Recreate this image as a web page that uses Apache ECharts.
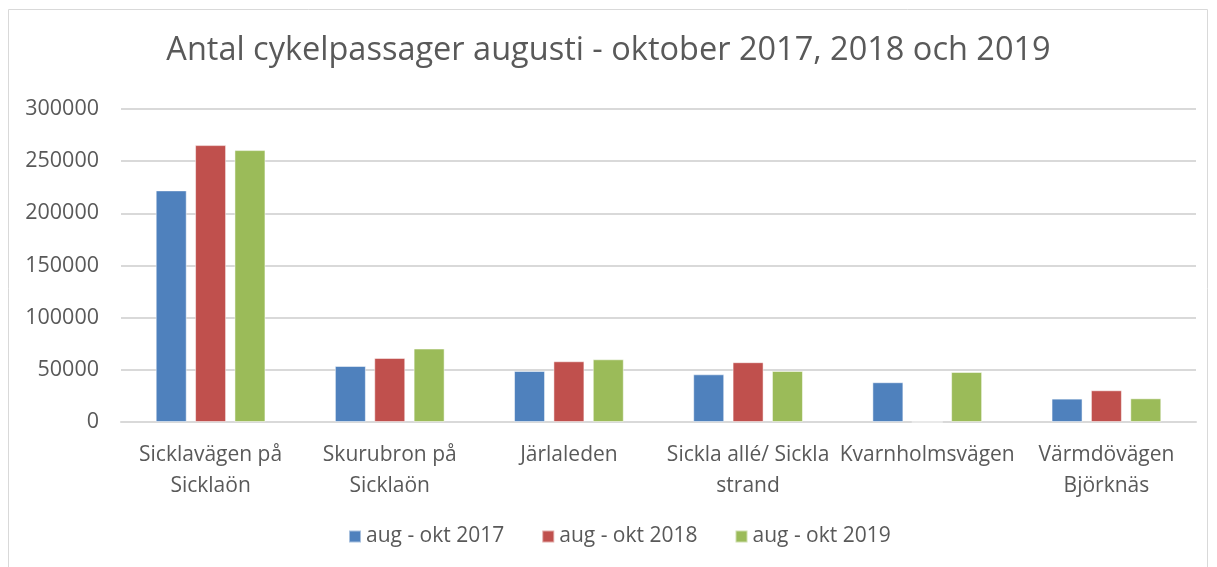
<!DOCTYPE html>
<html>
<head>
<meta charset="utf-8">
<script src="https://cdn.jsdelivr.net/npm/echarts@6/dist/echarts.min.js"></script>
<style>
  html, body { margin: 0; padding: 0; background: #fff; }
  #chart { width: 1217px; height: 567px; }
</style>
</head>
<body>
<div id="chart"></div>
<script>
const categories = [
  'Sicklavägen på\nSicklaön',
  'Skurubron på\nSicklaön',
  'Järlaleden',
  'Sickla allé/ Sickla\nstrand',
  'Kvarnholmsvägen',
  'Värmdövägen\nBjörknäs',
];
const seriesNames = ['aug - okt 2017', 'aug - okt 2018', 'aug - okt 2019'];
const values2017 = [222000, 53700, 48900, 45700, 38100, 22400];
const values2018 = [265400, 61400, 58200, 57300, 0, 30400];
const values2019 = [260600, 70400, 60100, 48900, 47900, 22700];
const colors = ['#4F81BD', '#C0504D', '#9BBB59'];

const font = '"Open Sans", sans-serif';
const chart = echarts.init(document.getElementById('chart'));

const series = [values2017, values2018, values2019].map((vals, i) => ({
  name: seriesNames[i],
  type: 'bar',
  data: vals,
  barWidth: 31,
  barGap: '27%',
  itemStyle: { color: colors[i], borderColor: 'rgba(255,255,255,0.5)', borderWidth: 1 },
}));

chart.setOption({
  animation: false,
  color: colors,
  graphic: [{
    type: 'rect',
    shape: { x: 8.5, y: 9.5, width: 1199, height: 600 },
    style: { fill: 'none', stroke: '#d9d9d9', lineWidth: 1 },
    silent: true,
  }],
  title: {
    text: 'Antal cykelpassager augusti - oktober 2017, 2018 och 2019',
    left: 'center',
    top: 29,
    textStyle: { fontFamily: font, fontSize: 32.5, fontWeight: 'normal', color: '#595959' },
  },
  legend: {
    bottom: 15,
    left: 343,
    itemWidth: 12,
    itemHeight: 12,
    itemGap: 37,
    icon: 'rect',
    textStyle: { fontFamily: font, fontSize: 21, color: '#595959' },
  },
  grid: { left: 121, right: 21, top: 109, bottom: 145 },
  xAxis: {
    type: 'category',
    data: categories,
    axisLine: { lineStyle: { color: '#d9d9d9', width: 2 } },
    axisTick: { show: false },
    axisLabel: {
      fontFamily: font, fontSize: 21, color: '#595959',
      lineHeight: 31, margin: 18, interval: 0,
    },
  },
  yAxis: {
    type: 'value',
    min: 0,
    max: 300000,
    interval: 50000,
    axisLine: { show: false },
    axisTick: { show: false },
    splitLine: { lineStyle: { color: '#d9d9d9', width: 2 } },
    axisLabel: {
      fontFamily: font, fontSize: 21.5, color: '#595959', margin: 22,
      formatter: (v) => String(v),
    },
  },
  series,
});
</script>
</body>
</html>
